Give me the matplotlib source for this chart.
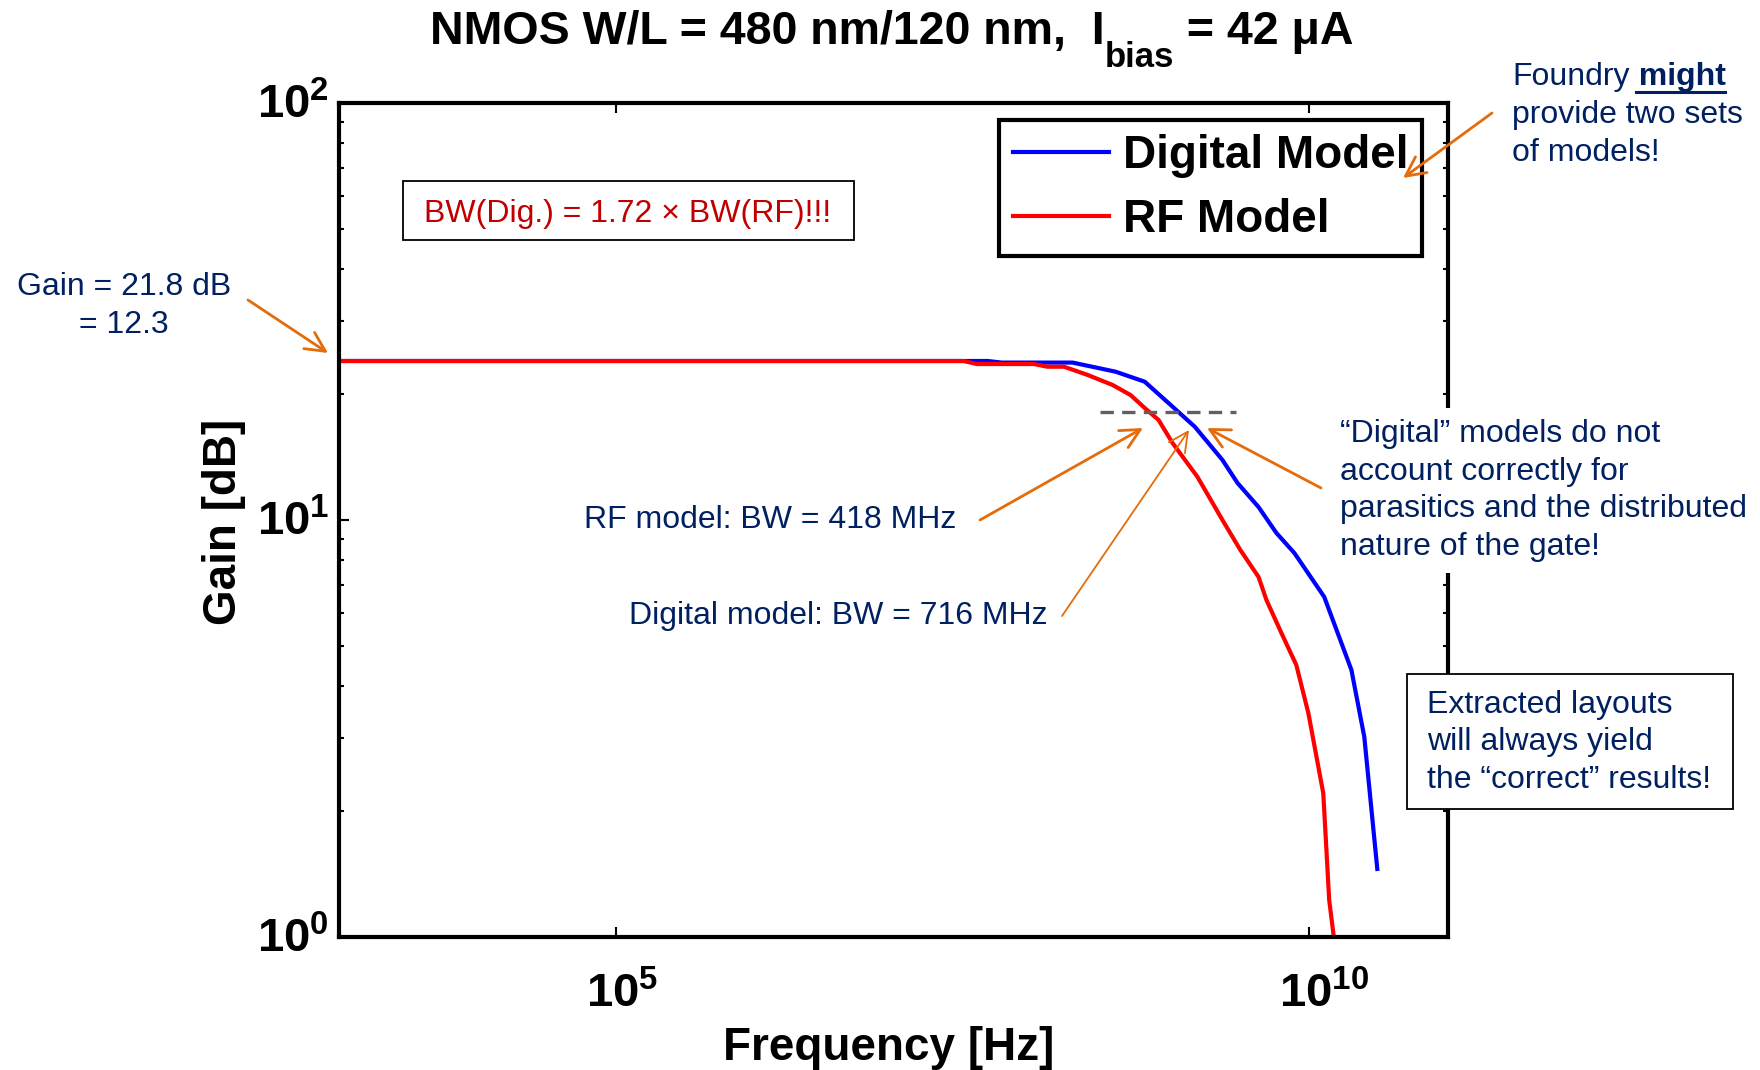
import matplotlib
matplotlib.use('Agg')
import matplotlib.pyplot as plt
from matplotlib.patches import Rectangle
from matplotlib.lines import Line2D
from matplotlib.ticker import NullLocator, LogLocator
from matplotlib.transforms import blended_transform_factory, offset_copy

plt.rcParams['font.family'] = ['Liberation Sans', 'DejaVu Sans']
plt.rcParams['mathtext.fontset'] = 'custom'
plt.rcParams['mathtext.rm'] = 'Liberation Sans:bold'
plt.rcParams['mathtext.it'] = 'Liberation Sans:bold'
plt.rcParams['mathtext.bf'] = 'Liberation Sans:bold'

# ---------------- data ----------------
freq_digital = [1e3, 4.79e7, 6.04e7, 1.96e8, 4.0e8, 6.49e8, 1.03e9, 1.49e9, 2.36e9,
                3.03e9, 4.30e9, 5.78e9, 7.80e9, 1.28e10, 2.01e10, 2.49e10, 3.09e10]
gain_digital = [24.06, 24.06, 23.85, 23.85, 22.68, 21.46, 18.70, 16.74, 13.93,
                12.27, 10.74, 9.31, 8.33, 6.54, 4.37, 3.02, 1.456]

freq_rf = [1e3, 3.21e7, 3.99e7, 1.03e8, 1.29e8, 1.70e8, 2.52e8, 3.81e8, 5.13e8,
           6.49e8, 8.17e8, 1.03e9, 1.56e9, 2.36e9, 3.18e9, 4.30e9, 4.90e9, 6.28e9,
           8.05e9, 9.84e9, 1.26e10, 1.39e10, 1.51e10]
gain_rf = [24.06, 24.06, 23.66, 23.66, 23.31, 23.31, 22.27, 21.07, 19.94,
           18.56, 17.37, 15.30, 12.68, 10.0, 8.47, 7.30, 6.43, 5.36,
           4.49, 3.44, 2.21, 1.226, 0.984]

bw_freq = [3.1e8, 2.95e9]      # dashed -3dB marker
bw_gain = [18.2, 18.2]

x_ticks = [1e5, 1e10]
x_exp = [5, 10]
y_ticks = [1, 10, 100]
y_exp = [0, 1, 2]

series_labels = ['Digital Model', 'RF Model']

# ---------------- figure ----------------
W, H = 1760, 1070
NAVY = '#002060'
ORANGE = '#E46C0A'
DARKRED = '#C00000'
NOTE_FS = 23
LS = 1.33


def fx(x):
    return x / W


def fy(y):
    return 1 - y / H


fig = plt.figure(figsize=(W / 100, H / 100), dpi=100)
ax = fig.add_axes([fx(339), fy(937), (1448 - 339) / W, (937 - 103) / H])

ax.plot(freq_digital, gain_digital, color='#0000FF', lw=3, label=series_labels[0])
ax.plot(freq_rf, gain_rf, color='#FF0000', lw=3, label=series_labels[1])
ax.plot(bw_freq, bw_gain, color='#606060', lw=2.4, dashes=(4, 2.5))

ax.set_xscale('log')
ax.set_yscale('log')
ax.set_xlim(1e3, 1e11)
ax.set_ylim(1, 100)
ax.set_xticks(x_ticks)
ax.xaxis.set_minor_locator(NullLocator())
ax.set_yticks(y_ticks)
ax.yaxis.set_minor_locator(LogLocator(base=10, subs=range(2, 10)))
ax.tick_params(which='both', direction='in', top=True, right=True,
               labelbottom=False, labelleft=False, width=1.5)
ax.tick_params(which='major', length=7)
ax.tick_params(which='minor', length=3.5)
for s in ax.spines.values():
    s.set_linewidth(3)

# tick labels drawn by hand so that "10" sits on the tick like the original
ytrans = offset_copy(blended_transform_factory(ax.transAxes, ax.transData),
                     fig=fig, x=-10, y=-15, units='dots')
for v, e in zip(y_ticks, y_exp):
    ax.text(0, v, r'$10^{%d}$' % e, transform=ytrans, ha='right', va='baseline',
            fontsize=34, clip_on=False)
xtrans = offset_copy(blended_transform_factory(ax.transData, ax.transAxes),
                     fig=fig, x=-30, y=-70, units='dots')
for v, e in zip(x_ticks, x_exp):
    ax.text(v, 0, r'$10^{%d}$' % e, transform=xtrans, ha='left', va='baseline',
            fontsize=34, clip_on=False)

fig.text(fx(889), fy(1060), 'Frequency [Hz]', ha='center', va='baseline',
         fontsize=33, fontweight='bold')
fig.text(fx(236), fy(522), 'Gain [dB]', ha='center', va='baseline', rotation=90,
         rotation_mode='anchor', fontsize=33, fontweight='bold')

# title with big subscript
t1 = fig.text(fx(430), fy(44), 'NMOS W/L = 480 nm/120 nm,  I', ha='left',
              va='baseline', fontsize=33.5, fontweight='bold')
t2 = ax.annotate('bias', xy=(1, H - 67), xycoords=(t1, 'figure pixels'),
                 ha='left', va='baseline', fontsize=25, fontweight='bold')
ax.annotate(' = 42 μA', xy=(1, H - 44), xycoords=(t2, 'figure pixels'),
            ha='left', va='baseline', fontsize=33.5, fontweight='bold')

# legend
leg = ax.legend(loc='upper right', bbox_to_anchor=(1 - 26 / 1109, 1 - 17 / 834),
                borderaxespad=0, prop=dict(weight='bold', size=33),
                handlelength=2.1, handletextpad=0.3, borderpad=0.3,
                labelspacing=0.45, fancybox=False, framealpha=1, edgecolor='black')
leg.get_frame().set_linewidth(3)

# BW ratio box
fig.add_artist(Rectangle((fx(403), fy(240)), (854 - 403) / W, (240 - 181) / H,
                         transform=fig.transFigure, facecolor='white',
                         edgecolor='black', lw=1.3, zorder=5))
fig.text(fx(628), fy(222), 'BW(Dig.) = 1.72 × BW(RF)!!!', ha='center', va='baseline',
         fontsize=NOTE_FS, color=DARKRED, zorder=6)

# notes (multi-line texts: y is the baseline of the last line)
fig.text(fx(124), fy(333), 'Gain = 21.8 dB\n= 12.3', ha='center', va='baseline',
         multialignment='center', fontsize=NOTE_FS, color=NAVY, linespacing=LS)

tf = fig.text(fx(1512), fy(85), 'Foundry', ha='left', va='baseline',
              fontsize=NOTE_FS, color=NAVY)
tm = ax.annotate(' might', xy=(1, H - 85), xycoords=(tf, 'figure pixels'),
                 ha='left', va='baseline', fontsize=NOTE_FS, fontweight='bold', color=NAVY)
fig.text(fx(1512), fy(161), 'provide two sets\nof models!', ha='left', va='baseline',
         fontsize=NOTE_FS, color=NAVY, linespacing=LS)

fig.text(fx(1340), fy(555),
         '“Digital” models do not\naccount correctly for\nparasitics and the distributed\nnature of the gate!',
         ha='left', va='baseline', fontsize=NOTE_FS, color=NAVY, zorder=6, linespacing=LS,
         bbox=dict(boxstyle='square,pad=0.35', facecolor='white', edgecolor='none'))

fig.text(fx(584), fy(528), 'RF model: BW = 418 MHz', ha='left', va='baseline',
         fontsize=NOTE_FS, color=NAVY)
fig.text(fx(629), fy(624), 'Digital model: BW = 716 MHz', ha='left', va='baseline',
         fontsize=NOTE_FS, color=NAVY)

fig.add_artist(Rectangle((fx(1407), fy(809)), (1733 - 1407) / W, (809 - 674) / H,
                         transform=fig.transFigure, facecolor='white',
                         edgecolor='black', lw=1.3, zorder=5))
fig.text(fx(1427), fy(788), 'Extracted layouts\nwill always yield\nthe “correct” results!',
         ha='left', va='baseline', fontsize=NOTE_FS, color=NAVY, zorder=6, linespacing=LS)

# arrows (tail -> head, picture pixels)
arrows = [((248, 300), (328, 353), 2.0),
          ((1492, 113), (1403, 178), 2.0),
          ((980, 520), (1143, 428), 2.0),
          ((1062, 616), (1189, 430), 1.3),
          ((1321, 488), (1207, 428), 2.0)]
for (x0, y0), (x1, y1), lw in arrows:
    ax.annotate('', xy=(x1, H - y1), xytext=(x0, H - y0), xycoords='figure pixels',
                textcoords='figure pixels', annotation_clip=False, zorder=10,
                arrowprops=dict(arrowstyle='->,head_length=0.7,head_width=0.35',
                                mutation_scale=20, color=ORANGE, lw=lw,
                                shrinkA=0, shrinkB=0))

# underline "might"
r = fig.canvas.get_renderer()
bb = tm.get_window_extent(renderer=r)
fig.add_artist(Line2D([bb.x0 + 6, bb.x1], [H - 92, H - 92], transform=None,
                      color=NAVY, lw=2.2))

fig.savefig('out.png', dpi=100)
